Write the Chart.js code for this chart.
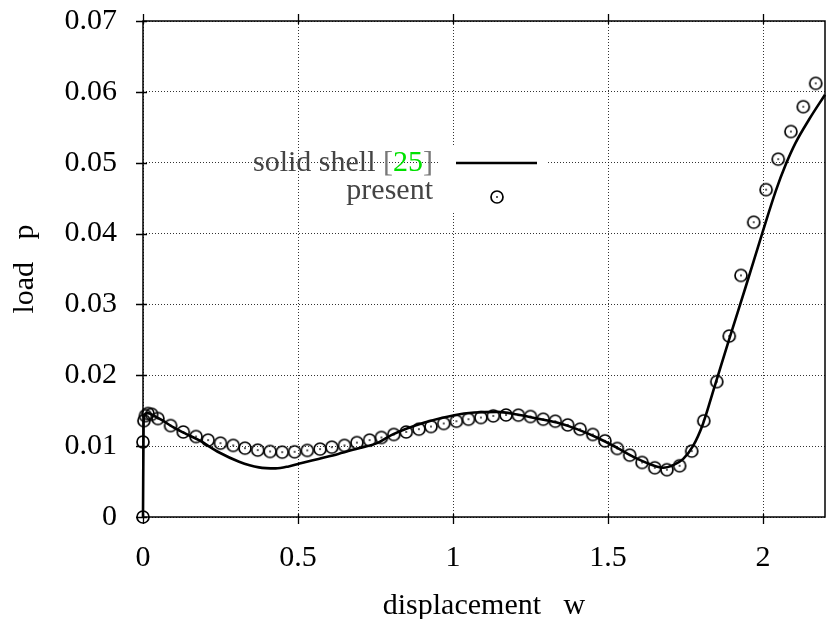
<!DOCTYPE html>
<html>
<head>
<meta charset="utf-8">
<title>load vs displacement</title>
<script src="https://cdn.jsdelivr.net/npm/chart.js@4.4.1/dist/chart.umd.min.js"></script>
<style>
  html, body { margin: 0; padding: 0; background: #fff; }
  #wrap { width: 832px; height: 619px; }
</style>
</head>
<body>
<div id="wrap"><canvas id="myChart" width="832" height="619"></canvas></div>
<script>
// reference curve (solid shell)
const refW = [0, 0.002, 0.006, 0.015, 0.03, 0.06, 0.1, 0.14, 0.182, 0.246, 0.31, 0.374, 0.428, 0.47, 0.502,
  0.566, 0.63, 0.695, 0.759, 0.801, 0.908, 1.004, 1.069, 1.143, 1.207, 1.271, 1.335, 1.4, 1.464, 1.528,
  1.592, 1.656, 1.678, 1.71, 1.742, 1.774, 1.806, 1.843, 1.891, 1.945, 1.998, 2.041, 2.073, 2.105, 2.15, 2.2];
const refP = [0, 0.0135, 0.0145, 0.0147, 0.0144, 0.0137, 0.0126, 0.0117, 0.0108, 0.0091, 0.0078, 0.0070, 0.00686, 0.00714, 0.0075,
  0.0082, 0.0089, 0.0097, 0.0105, 0.01155, 0.01333, 0.01437, 0.01474, 0.01483, 0.01446, 0.0139, 0.01333, 0.0124, 0.01122, 0.0098,
  0.00827, 0.00714, 0.00695, 0.00732, 0.00817, 0.0100, 0.0131, 0.0183, 0.0251, 0.0326, 0.0401, 0.0460, 0.0497, 0.0528, 0.0562, 0.0596];

// present results
const presentW = [0, 0, 0.003, 0.008, 0.016, 0.028, 0.048, 0.089, 0.130, 0.171, 0.210, 0.250, 0.291, 0.329, 0.370,
  0.410, 0.449, 0.489, 0.530, 0.571, 0.609, 0.650, 0.690, 0.731, 0.769, 0.809, 0.849, 0.890, 0.929, 0.970,
  1.011, 1.050, 1.090, 1.130, 1.171, 1.211, 1.250, 1.291, 1.330, 1.370, 1.410, 1.451, 1.490, 1.530, 1.570,
  1.610, 1.651, 1.690, 1.731, 1.770, 1.809, 1.851, 1.891, 1.929, 1.970, 2.010, 2.049, 2.090, 2.130, 2.170];
const presentP = [0, 0.0106, 0.0136, 0.0143, 0.0146, 0.0145, 0.0139, 0.0129, 0.0120, 0.01136, 0.01085, 0.01042, 0.0101, 0.00972, 0.00944,
  0.00925, 0.00915, 0.0092, 0.0094, 0.00958, 0.00986, 0.0101, 0.0105, 0.01085, 0.01122, 0.01165, 0.0120, 0.0124, 0.01277, 0.0132,
  0.01352, 0.0138, 0.01404, 0.01427, 0.0144, 0.01437, 0.01418, 0.0138, 0.01352, 0.0130, 0.0124, 0.01165, 0.01075, 0.00967, 0.00873,
  0.0077, 0.00695, 0.00667, 0.00723, 0.0093, 0.01357, 0.0191, 0.02554, 0.0341, 0.0416, 0.0462, 0.0505, 0.0544, 0.0579, 0.0612];

const xTicks = [0, 0.5, 1, 1.5, 2];
const xTickLabels = ['0', '0.5', '1', '1.5', '2'];
const yTicks = [0, 0.01, 0.02, 0.03, 0.04, 0.05, 0.06, 0.07];
const yTickLabels = ['0', '0.01', '0.02', '0.03', '0.04', '0.05', '0.06', '0.07'];
const seriesLabels = ['solid shell', 'present'];
const citation = '25';

const FONT = "'Liberation Serif', 'Times New Roman', serif";

// circle with a dot in the middle, used for the "present" points
function makeMarker() {
  const c = document.createElement('canvas');
  c.width = 16; c.height = 16;
  const g = c.getContext('2d');
  g.strokeStyle = '#000';
  g.lineWidth = 1.7;
  g.beginPath();
  g.arc(8, 8, 6, 0, Math.PI * 2);
  g.stroke();
  g.fillStyle = '#000';
  g.fillRect(7.2, 7.2, 1.6, 1.6);
  return c;
}
const marker = makeMarker();

// frame + tick marks
const framePlugin = {
  id: 'frame',
  afterDraw(chart) {
    const { ctx, chartArea: a, scales: { x, y } } = chart;
    ctx.save();
    ctx.strokeStyle = '#000';
    ctx.lineWidth = 1.5;
    ctx.strokeRect(a.left, a.top, a.right - a.left, a.bottom - a.top);
    ctx.lineWidth = 1.3;
    ctx.beginPath();
    x.ticks.forEach(t => {
      const px = Math.round(x.getPixelForValue(t.value)) + 0.5;
      ctx.moveTo(px, a.bottom - 3); ctx.lineTo(px, a.bottom + 7);
      ctx.moveTo(px, a.top + 3); ctx.lineTo(px, a.top - 7);
    });
    y.ticks.forEach(t => {
      const py = Math.round(y.getPixelForValue(t.value)) + 0.5;
      ctx.moveTo(a.left - 7, py); ctx.lineTo(a.left + 4, py);
    });
    ctx.stroke();
    ctx.restore();
  }
};

// key: right-aligned labels with the sample to their right
const keyPlugin = {
  id: 'key',
  afterDatasetsDraw(chart) {
    const { ctx } = chart;
    const textRight = 433;
    ctx.save();
    ctx.fillStyle = '#fff';
    ctx.fillRect(440, 147, 108, 65);

    ctx.font = '30px ' + FONT;
    ctx.textBaseline = 'alphabetic';
    ctx.textAlign = 'left';
    const parts = [
      [chart.data.datasets[0].label + ' ', '#444'],
      ['[', '#777'],
      [citation, 'rgb(0,225,0)'],
      [']', '#777']
    ];
    let total = 0;
    parts.forEach(p => { total += ctx.measureText(p[0]).width; });
    let cx = textRight - total;
    parts.forEach(p => {
      ctx.fillStyle = p[1];
      ctx.fillText(p[0], cx, 171);
      cx += ctx.measureText(p[0]).width;
    });
    ctx.textAlign = 'right';
    ctx.fillStyle = '#444';
    ctx.fillText(chart.data.datasets[1].label, textRight, 199);

    ctx.strokeStyle = '#000';
    ctx.lineWidth = 2.6;
    ctx.beginPath();
    ctx.moveTo(456, 163);
    ctx.lineTo(537, 163);
    ctx.stroke();
    ctx.drawImage(marker, 497 - 8, 197 - 8);
    ctx.restore();
  }
};

const gridOpts = {
  color: 'rgba(0,0,0,0.8)',
  lineWidth: 1,
  drawTicks: true,
  tickLength: 7,
  tickColor: 'rgba(0,0,0,0)'
};
// in v4 the grid line dash lives on the border options
const borderOpts = { display: false, dash: [1, 2] };

new Chart(document.getElementById('myChart'), {
  type: 'scatter',
  data: {
    datasets: [
      {
        label: seriesLabels[0],
        data: refW.map((w, i) => ({ x: w, y: refP[i] })),
        showLine: true,
        borderColor: '#000',
        borderWidth: 2.6,
        pointRadius: 0,
        cubicInterpolationMode: 'monotone',
        clip: false,
        order: 2
      },
      {
        label: seriesLabels[1],
        data: presentW.map((w, i) => ({ x: w, y: presentP[i] })),
        showLine: false,
        pointStyle: marker,
        pointRadius: 6,
        clip: false,
        order: 1
      }
    ]
  },
  options: {
    responsive: false,
    animation: false,
    devicePixelRatio: 1,
    layout: { padding: { top: 21, right: 2, left: 0, bottom: 0 } },
    plugins: {
      legend: { display: false },
      tooltip: { enabled: false }
    },
    scales: {
      x: {
        type: 'linear',
        min: 0,
        max: 2.2,
        afterBuildTicks: s => { s.ticks = xTicks.map(v => ({ value: v })); },
        afterFit: s => { s.height = 102; s.paddingLeft = 0; s.paddingRight = 0; },
        grid: gridOpts,
        border: borderOpts,
        ticks: {
          color: '#000',
          font: { family: FONT, size: 30 },
          padding: 16,
          maxRotation: 0,
          callback: (v, i) => xTickLabels[i]
        },
        title: {
          display: true,
          text: 'displacement   w',
          color: '#000',
          font: { family: FONT, size: 30, lineHeight: 0.85 },
          padding: 0
        }
      },
      y: {
        type: 'linear',
        min: 0,
        max: 0.07,
        afterBuildTicks: s => { s.ticks = yTicks.map(v => ({ value: v })); },
        afterFit: s => { s.width = 143; s.paddingTop = 0; s.paddingBottom = 0; },
        grid: gridOpts,
        border: borderOpts,
        ticks: {
          color: '#000',
          font: { family: FONT, size: 30 },
          padding: 19,
          callback: (v, i) => yTickLabels[i]
        },
        title: {
          display: true,
          text: 'load   p',
          color: '#000',
          font: { family: FONT, size: 30, lineHeight: 1 },
          padding: { top: 10, bottom: 0 }
        }
      }
    }
  },
  plugins: [keyPlugin, framePlugin]
});
</script>
</body>
</html>
